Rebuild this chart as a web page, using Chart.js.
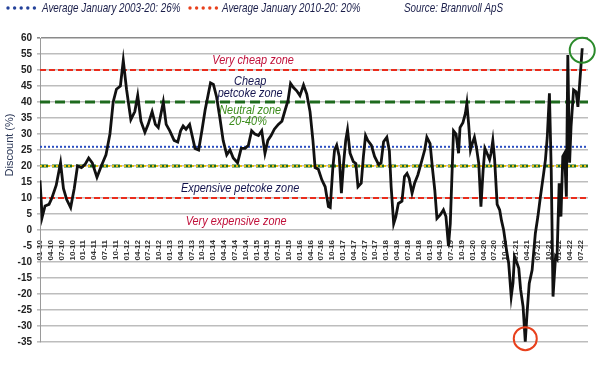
<!DOCTYPE html>
<html>
<head>
<meta charset="utf-8">
<script src="https://cdn.jsdelivr.net/npm/chart.js@4.4.0/dist/chart.umd.min.js"></script>
<style>
html, body { margin: 0; padding: 0; background: #fff; }
#wrap { width: 600px; height: 366px; position: relative; }
</style>
</head>
<body>
<div id="wrap"><canvas id="myChart" width="600" height="366"></canvas></div>
<script>
// months since Jan 2010 and the petcoke discount (%)
var months = [0, 0.6, 1.4, 2.5, 3.3, 4.5, 5.7, 6.5, 7.4, 8.5, 9.5, 10.4, 11.5, 12.5, 13.5, 14.5, 15.8, 17, 18.3, 19.4,
    20.3, 21.2, 22.3, 23.1, 24, 25.2, 26.3, 27.1, 28, 29.1, 30, 31.1, 32, 32.8, 34.2, 35, 36, 37.2, 38.2, 39,
    39.7, 40.5, 41.5, 42.3, 43, 44, 44.9, 45.8, 46.6, 47.3, 48.1, 49, 49.9, 50.8, 51.8, 52.7, 53.6, 54.8, 55.8, 56.9,
    57.8, 58.7, 59.6, 60.6, 61.5, 62.4, 63.2, 64.1, 65, 66.1, 67.1, 68, 68.8, 69.5, 70.3, 71.2, 72.1, 73.1, 74, 74.9,
    75.7, 76.3, 77.2, 78.2, 79.1, 80, 80.5, 81.2, 81.7, 82.3, 83, 83.6, 84.2, 84.8, 85.3, 86, 86.9, 87.6, 88.2, 89.1,
    89.7, 90.3, 90.9, 91.9, 92.8, 93.9, 94.6, 95.3, 96.2, 96.9, 97.4, 98.1, 98.7, 99.4, 100.4, 101.1, 101.8, 102.4, 103.2, 103.9,
    104.8, 105.7, 106.7, 107.3, 108.2, 108.9, 109.5, 110.1, 111, 111.9, 112.6, 113.3, 113.8, 114.7, 115.4, 116.1, 116.5, 117.3, 118, 118.4,
    118.9, 119.4, 119.9, 120.5, 121.1, 121.7, 122.3, 122.9, 123.4, 124, 124.7, 125.1, 125.6, 126.1, 126.8, 127.5, 128, 128.6, 129.4, 130,
    130.7, 131.2, 131.6, 132.2, 132.8, 133.3, 134, 134.6, 135.1, 135.7, 136.5, 137.4, 138.1, 138.8, 139.7, 140.2, 140.7, 141.3, 141.8, 142.3,
    143, 143.4, 144, 144.5, 145, 145.5, 146, 146.4, 146.9, 147.3, 148, 148.7, 149.2, 149.7, 150.4];
var discount = [15.5, 4, 7.5, 8, 10, 14, 21, 13, 9.5, 7, 13, 20, 19.5, 20.5, 22.5, 21, 16.5, 20, 23.5, 30,
    40, 44, 45, 53, 44, 34.5, 37, 42, 34, 30.5, 33, 37, 33, 32, 40, 33, 31, 28, 27.5, 31,
    32.5, 31.5, 33, 29, 25.5, 25, 31, 37.5, 42, 46, 45.5, 41.5, 35, 28, 23.5, 25, 22.5, 21, 25.5, 25.5,
    26.5, 31, 30, 29.5, 31, 24, 28, 29.5, 31.5, 33, 34, 37.5, 40.5, 45.8, 44.5, 43.5, 42, 45.3, 42.5, 37,
    28, 19.5, 19, 15.6, 13.5, 7.3, 7, 19, 25, 26.5, 23, 11.5, 20.8, 28, 31.3, 24, 21.4, 20.8, 13.5, 14.6,
    22.9, 29.5, 28, 26.5, 23, 20.5, 21, 27.6, 29, 24.8, 13.5, 2, 4.2, 8.3, 9, 16.7, 17.7, 16.1, 11.5, 14.6,
    17.2, 20.8, 25, 29, 27, 18.8, 12.5, 3.6, 4.7, 6.3, 4.2, -5, 2, 31, 30, 24, 32, 33.5, 36.5, 39.6,
    33, 25, 27, 29, 25.5, 20.8, 7.3, 18.5, 25.5, 24, 22, 24, 28, 22, 8, 6.3, 3, 0, -6.3, -10.4,
    -20.8, -16.5, -8.3, -10, -12, -18.5, -24, -34.9, -26, -16.7, -12.5, -1, 4.2, 10.4, 17.7, 22, 29, 42.7, 18.8, -20.8,
    -8.3, -9, 14.6, 4.2, 23, 24, 10.4, 54.7, 21, 32.3, 43.8, 43.2, 38.5, 45.8, 56.8];

var tickLabels = ['01-10', '04-10', '07-10', '10-10', '01-11', '04-11', '07-11', '10-11', '01-12', '04-12', '07-12', '10-12',
    '01-13', '04-13', '07-13', '10-13', '01-14', '04-14', '07-14', '10-14', '01-15', '04-15', '07-15', '10-15',
    '01-16', '04-16', '07-16', '10-16', '01-17', '04-17', '07-17', '10-17', '01-18', '04-18', '07-18', '10-18',
    '01-19', '04-19', '07-19', '10-19', '01-20', '04-20', '07-20', '10-20', '01-21', '04-21', '07-21', '10-21',
    '01-22', '04-22', '07-22'];

// zone boundaries and averages
var veryCheapLevel = 50;
var cheapLevel = 40;
var avg0320 = 26;
var avg1020 = 20;
var expensiveLevel = 10;

var zoneTexts = [
    { text: 'Very cheap zone', m: 59.1, v: 53, color: '#c0103a' },
    { text: 'Cheap', m: 58.3, v: 46.3, color: '#14144e' },
    { text: 'petcoke zone', m: 58.3, v: 42.7, color: '#14144e' },
    { text: 'Neutral zone', m: 58.3, v: 37.5, color: '#3c8c1c' },
    { text: '20-40%', m: 57.7, v: 33.8, color: '#3c8c1c' },
    { text: 'Expensive petcoke zone', m: 55.5, v: 13, color: '#14144e' },
    { text: 'Very expensive zone', m: 54.4, v: 2.6, color: '#c0103a' }
];

var xMin = 0, xMax = 152;

function flat(level) {
    return [{ x: xMin, y: level }, { x: xMax, y: level }];
}

var series = months.map(function (m, i) { return { x: m, y: discount[i] }; });

var sans = '"Liberation Sans", Arial, sans-serif';

// squeezed text, the original uses a condensed face
function squeezed(c, txt, x, y, sx) {
    c.save();
    c.translate(x, y);
    c.scale(sx, 1);
    c.fillText(txt, 0, 0);
    c.restore();
}

var extras = {
    id: 'extras',
    afterDraw: function (chart) {
        var c = chart.ctx, x = chart.scales.x, y = chart.scales.y;
        c.save();
        // zone annotations
        c.textAlign = 'center';
        c.textBaseline = 'middle';
        c.font = 'italic 13px ' + sans;
        zoneTexts.forEach(function (z) {
            c.fillStyle = z.color;
            squeezed(c, z.text, x.getPixelForValue(z.m), y.getPixelForValue(z.v), 0.84);
        });
        // circles round the extreme points
        var iMax = 0, iMin = 0;
        discount.forEach(function (v, i) {
            if (v > discount[iMax]) iMax = i;
            if (v < discount[iMin]) iMin = i;
        });
        c.lineWidth = 2;
        c.strokeStyle = '#2a8a2a';
        c.beginPath();
        c.arc(x.getPixelForValue(months[iMax]), y.getPixelForValue(discount[iMax]) + 2, 12.5, 0, Math.PI * 2);
        c.stroke();
        c.strokeStyle = '#e8401c';
        c.beginPath();
        c.arc(x.getPixelForValue(months[iMin]), y.getPixelForValue(discount[iMin]) - 3, 11.5, 0, Math.PI * 2);
        c.stroke();
        // y title
        c.save();
        c.translate(10, 145);
        c.rotate(-Math.PI / 2);
        c.fillStyle = '#2a3656';
        c.font = '11px ' + sans;
        c.fillText('Discount (%)', 0, 0);
        c.restore();
        // legend row
        c.textAlign = 'left';
        c.font = 'italic 13.5px ' + sans;
        var dots = function (x0, col) {
            c.fillStyle = col;
            for (var k = 0; k < 5; k++) {
                c.beginPath();
                c.arc(x0 + k * 6.6, 8, 1.7, 0, Math.PI * 2);
                c.fill();
            }
        };
        dots(8, '#24429a');
        c.fillStyle = '#1a1e4a';
        squeezed(c, 'Average January 2003-20: 26%', 42, 8, 0.73);
        dots(190, '#e8401c');
        c.fillStyle = '#1a1e4a';
        squeezed(c, 'Average January 2010-20: 20%', 222, 8, 0.73);
        squeezed(c, 'Source: Brannvoll ApS', 404, 8, 0.73);
        c.restore();
    }
};

var ctx = document.getElementById('myChart').getContext('2d');
var myChart = new Chart(ctx, {
    type: 'line',
    data: {
        datasets: [{
            label: 'Discount',
            data: series,
            borderColor: '#111',
            borderWidth: 2.8,
            pointRadius: 0,
            tension: 0,
            order: 0
        }, {
            label: 'Average January 2010-20',
            data: flat(avg1020),
            borderColor: '#e8c010',
            borderWidth: 2,
            borderDash: [2, 2],
            pointRadius: 0,
            order: 1
        }, {
            label: 'Neutral low',
            data: flat(avg1020),
            borderColor: '#1e6a1e',
            borderWidth: 3,
            borderDash: [8, 4],
            pointRadius: 0,
            order: 2
        }, {
            label: 'Average January 2003-20',
            data: flat(avg0320),
            borderColor: '#2a4ec0',
            borderWidth: 2,
            borderDash: [2, 2],
            pointRadius: 0,
            order: 3
        }, {
            label: 'Cheap',
            data: flat(cheapLevel),
            borderColor: '#1e6a1e',
            borderWidth: 3,
            borderDash: [10, 5],
            pointRadius: 0,
            order: 4
        }, {
            label: 'Very cheap',
            data: flat(veryCheapLevel),
            borderColor: '#ea2c1c',
            borderWidth: 2,
            borderDash: [6, 3],
            pointRadius: 0,
            order: 5
        }, {
            label: 'Expensive',
            data: flat(expensiveLevel),
            borderColor: '#ea2c1c',
            borderWidth: 2,
            borderDash: [6, 3],
            pointRadius: 0,
            order: 6
        }]
    },
    options: {
        responsive: false,
        animation: false,
        layout: { padding: { top: 38, bottom: 24, left: 0, right: 12 } },
        plugins: { legend: { display: false }, tooltip: { enabled: false } },
        scales: {
            x: {
                type: 'linear',
                position: { y: 0 },
                min: xMin,
                max: xMax,
                afterBuildTicks: function (s) {
                    s.ticks = tickLabels.map(function (l, i) { return { value: i * 3 }; });
                },
                ticks: {
                    autoSkip: false,
                    minRotation: 90,
                    maxRotation: 90,
                    padding: 2,
                    color: '#333',
                    font: { size: 8, weight: 'bold', family: sans },
                    callback: function (v, i) { return tickLabels[i]; }
                },
                grid: { display: false },
                border: { display: false }
            },
            y: {
                min: -35,
                max: 60,
                afterFit: function (s) { s.width = 40; },
                ticks: {
                    stepSize: 5,
                    padding: 5,
                    color: '#222',
                    font: { size: 10, weight: 'bold', family: sans }
                },
                grid: {
                    color: function (c) { return c.tick && c.tick.value === 60 ? '#8a8a8a' : '#bdbdbd'; },
                    lineWidth: 1.6,
                    tickLength: 3
                },
                border: { color: '#9a9a9a', width: 1 }
            }
        }
    },
    plugins: [extras]
});
</script>
</body>
</html>
